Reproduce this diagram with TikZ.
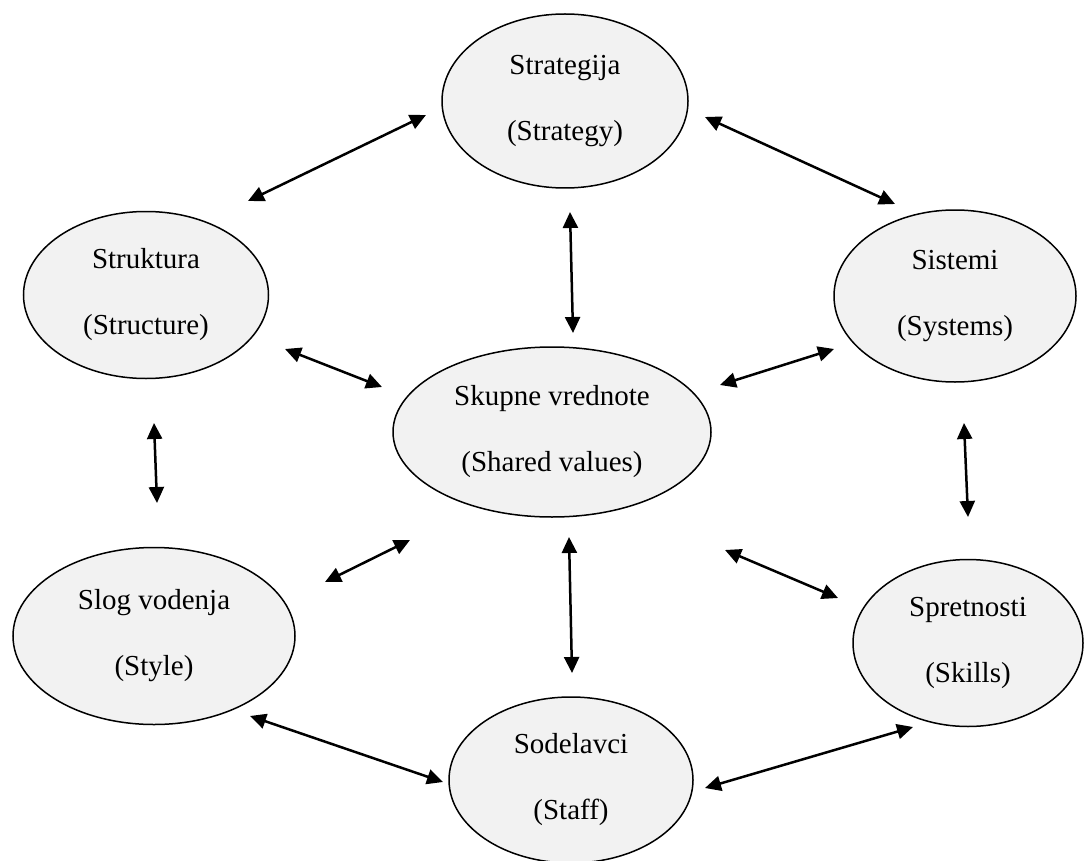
\documentclass[tikz,border=0pt]{standalone}
\usepackage{fontspec}
\setmainfont{Liberation Serif}
\usetikzlibrary{shapes.geometric,arrows.meta}
\definecolor{ellfill}{HTML}{F2F2F2}
\tikzset{
  elbox/.style={ellipse, draw=black, line width=1.5pt, fill=ellfill, inner sep=0pt,
    align=center, font=\fontsize{29}{66}\selectfont},
  link/.style={line width=2.5pt, {Triangle[length=16pt,width=15pt]}-{Triangle[length=16pt,width=15pt]}}
}
\begin{document}
\begin{tikzpicture}[x=1pt,y=-1pt]
\useasboundingbox (0,0) rectangle (1086,861);
% ellipses
\node[elbox, minimum width=246pt, minimum height=174pt] (strat) at (565,101) {Strategija\\(Strategy)};
\node[elbox, minimum width=245pt, minimum height=167pt] (struk) at (146,295) {Struktura\\(Structure)};
\node[elbox, minimum width=242pt, minimum height=172pt] (sist) at (955,296) {Sistemi\\(Systems)};
\node[elbox, minimum width=318pt, minimum height=170pt] (skup) at (552,432) {Skupne vrednote\\(Shared values)};
\node[elbox, minimum width=282pt, minimum height=177pt] (slog) at (154,636) {Slog vodenja\\(Style)};
\node[elbox, minimum width=230pt, minimum height=167pt] (sprt) at (968,643) {Spretnosti\\(Skills)};
\node[elbox, minimum width=244pt, minimum height=166pt] (sod) at (571,780) {Sodelavci\\(Staff)};
% arrow end points
\coordinate (a1s) at (248,201); \coordinate (a1e) at (426,115);
\coordinate (a2s) at (705,117); \coordinate (a2e) at (895,204);
\coordinate (a3s) at (570,212); \coordinate (a3e) at (573,333);
\coordinate (a4s) at (285,349); \coordinate (a4e) at (382,387);
\coordinate (a5s) at (720,385); \coordinate (a5e) at (834,349);
\coordinate (a6s) at (154,423); \coordinate (a6e) at (157,503);
\coordinate (a7s) at (964,423); \coordinate (a7e) at (968,517);
\coordinate (a8s) at (325,582); \coordinate (a8e) at (410,540);
\coordinate (a9s) at (569,537); \coordinate (a9e) at (572,673);
\coordinate (a10s) at (725,550); \coordinate (a10e) at (838,598);
\coordinate (a11s) at (250,716); \coordinate (a11e) at (443,782);
\coordinate (a12s) at (705,788); \coordinate (a12e) at (913,727);
% arrows
\draw[link] (a1s) -- (a1e);
\draw[link] (a2s) -- (a2e);
\draw[link] (a3s) -- (a3e);
\draw[link] (a4s) -- (a4e);
\draw[link] (a5s) -- (a5e);
\draw[link] (a6s) -- (a6e);
\draw[link] (a7s) -- (a7e);
\draw[link] (a8s) -- (a8e);
\draw[link] (a9s) -- (a9e);
\draw[link] (a10s) -- (a10e);
\draw[link] (a11s) -- (a11e);
\draw[link] (a12s) -- (a12e);
\end{tikzpicture}
\end{document}
